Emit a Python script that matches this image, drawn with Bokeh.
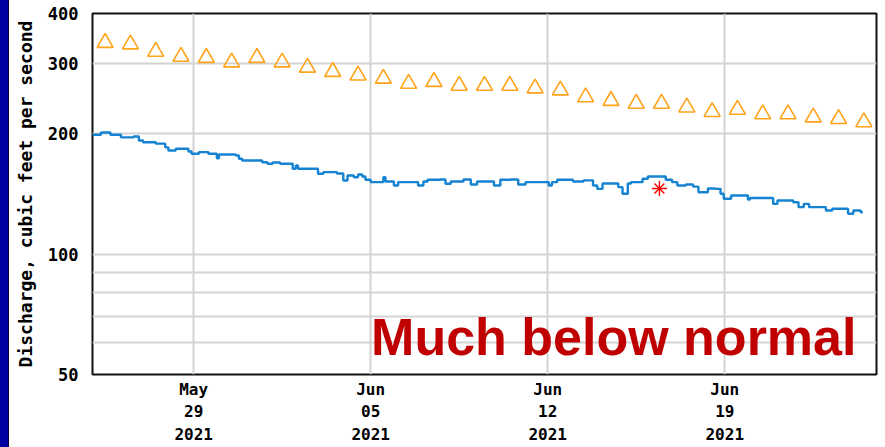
import pandas as pd
from bokeh.plotting import figure
from bokeh.models import (Range1d, FixedTicker, NumeralTickFormatter, Label,
                          InlineStyleSheet)
from bokeh.embed import file_html
from bokeh.resources import INLINE

# ---------------- data ----------------
start = "2021-05-25 00:00"
end = "2021-06-25 00:00"

# daily median of daily mean discharge (triangles), one per day from May 25
median_days = pd.date_range("2021-05-25 12:00", periods=31, freq="D")
median_cfs = [338, 335, 321, 312, 310, 302, 310, 302, 293, 286, 280, 275, 267,
              270, 264, 264, 264, 260, 257, 247, 242, 238, 238, 233, 227, 230,
              224, 224, 220, 218, 214]

# instantaneous discharge (hours since May 25 00:00, cfs)
q_hours = [0, 8, 17, 27, 39, 44, 48, 60, 69, 72, 79, 91, 94, 101, 110, 118, 120,
           136, 139, 142, 161, 166, 171, 178, 190, 193, 195, 214, 219, 232, 238,
           242, 248, 252, 256, 259, 264, 276, 278, 286, 290, 309, 314, 318, 330,
           335, 340, 352, 359, 365, 381, 387, 397, 404, 411, 433, 436, 441, 456,
           466, 475, 479, 484, 499, 503, 508, 511, 522, 527, 544, 550, 555, 563,
           570, 575, 584, 591, 596, 599, 606, 622, 624, 646, 650, 665, 670, 675,
           680, 696, 702, 717, 722, 729, 731]
q_cfs = [199, 201.5, 199, 196, 197, 192.5, 190.6, 189, 185, 181.7, 183.5, 180.6,
         178.3, 180, 178.3, 173.8, 177.6, 176.5, 173.2, 171.5, 169.8, 168.3, 169.6,
         168.3, 163.5, 166.6, 163.5, 158.9, 160.4, 159.2, 152.9, 157.3, 155.8,
         158.2, 156.4, 153.5, 151.4, 155.8, 152, 148.5, 151.4, 148.5, 152, 153.5,
         153.8, 150, 152, 153.8, 149.4, 152, 148.5, 153.5, 153.8, 149.4, 151.4,
         148.5, 151.4, 153.5, 152, 153, 148.5, 145.7, 150.3, 147.1, 141.6, 150.3,
         151.4, 154.4, 156.4, 153.5, 151.4, 148.5, 149.4, 147.6, 142.9, 146, 145.7,
         141.6, 137.6, 140.2, 137, 138.2, 133.6, 136.2, 134.9, 131.1, 133.6, 131.1,
         128.6, 129.9, 126.2, 128.6, 127.3, 127.3]

# field measurement
meas_time = ["2021-06-16 10:00"]
meas_cfs = [146]

x_tick_dates = ["2021-05-29", "2021-06-05", "2021-06-12", "2021-06-19"]
x_tick_labels = ["May\n29\n2021", "Jun\n05\n2021", "Jun\n12\n2021", "Jun\n19\n2021"]
y_tick_values = [50, 100, 200, 300, 400]
y_grid_values = [60, 70, 80, 90, 100, 200, 300]

status_text = "Much below normal"
status_x = "2021-06-24 05:00"
status_y = 62.2

# ---------------- figure ----------------
t0 = pd.Timestamp(start)
q_times = [t0 + pd.Timedelta(hours=h) for h in q_hours]

p = figure(width=885, height=447, output_backend="svg", toolbar_location=None,
           x_axis_type="datetime", y_axis_type="log",
           x_range=Range1d(pd.Timestamp(start), pd.Timestamp(end)),
           y_range=Range1d(50, 400),
           min_border_left=92, min_border_right=9, min_border_top=13,
           min_border_bottom=73)
p.background_fill_color = "white"
p.border_fill_color = "white"
p.outline_line_color = "#111111"
p.outline_line_width = 2

ms = lambda d: pd.Timestamp(d).value // 10**6
xt = [ms(d) for d in x_tick_dates]
p.xaxis.ticker = FixedTicker(ticks=xt)
p.xaxis.major_label_overrides = {t: l for t, l in zip(xt, x_tick_labels)}
p.xgrid.ticker = FixedTicker(ticks=xt)
p.yaxis.ticker = FixedTicker(ticks=y_tick_values)
p.yaxis.formatter = NumeralTickFormatter(format="0")
p.ygrid.ticker = FixedTicker(ticks=y_grid_values)

for g in (p.xgrid, p.ygrid):
    g.grid_line_color = "#d3d3d3"
    g.grid_line_width = 2

for ax in (p.xaxis, p.yaxis):
    ax.axis_line_color = None
    ax.major_tick_line_color = None
    ax.minor_tick_line_color = None
    ax.major_tick_in = 0
    ax.major_tick_out = 0
    ax.major_label_text_font = "DejaVu Sans Mono"
    ax.major_label_text_font_style = "bold"
    ax.major_label_text_color = "black"

p.xaxis.major_label_text_font_size = "16px"
p.xaxis.major_label_standoff = 5
p.yaxis.major_label_text_font_size = "17px"
p.yaxis.major_label_standoff = 14

p.yaxis.axis_label = "Discharge, cubic feet per second"
p.yaxis.axis_label_text_font = "DejaVu Sans Mono"
p.yaxis.axis_label_text_font_style = "bold"
p.yaxis.axis_label_text_font_size = "18px"
p.yaxis.axis_label_text_color = "black"
p.yaxis.axis_label_standoff = 9

# median triangles
p.scatter(median_days, median_cfs, marker="triangle", size=16,
          fill_color=None, line_color="#FFA31A", line_width=1.6)

# discharge series
p.step(q_times, q_cfs, mode="after", line_color="#1683D2", line_width=2.4)

# measurement star
mt = [pd.Timestamp(t) for t in meas_time]
p.scatter(mt, meas_cfs, marker="cross", size=15, line_color="red", line_width=1.4)
p.scatter(mt, meas_cfs, marker="x", size=14, line_color="red", line_width=1.4)

p.add_layout(Label(x=pd.Timestamp(status_x).value // 10**6, y=status_y,
                   text=status_text, text_align="right",
                   text_baseline="alphabetic", text_font="Liberation Sans",
                   text_font_style="bold", text_font_size="52px",
                   text_color="#C00000"))

p.stylesheets = [InlineStyleSheet(css=(
    ":host::before{content:'';position:fixed;left:0;top:0;width:8px;"
    "height:100vh;background:#0000A0;border-right:1px solid #000040;z-index:10;}"))]

open("out.html", "w").write(file_html(p, INLINE))
